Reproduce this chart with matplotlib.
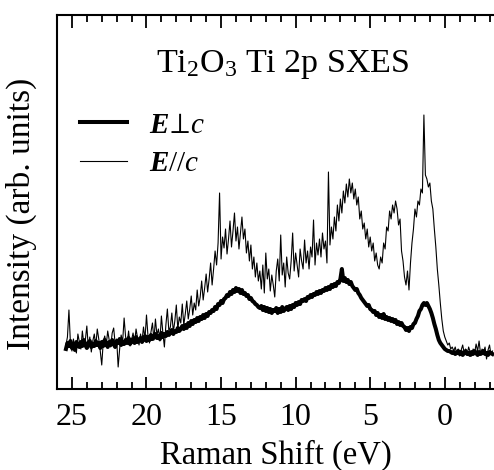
import numpy as np
import matplotlib
matplotlib.use("Agg")
import matplotlib.pyplot as plt
from matplotlib.ticker import MultipleLocator

plt.rcParams['font.family'] = ['Liberation Serif', 'DejaVu Serif']
plt.rcParams['mathtext.fontset'] = 'custom'
plt.rcParams['mathtext.rm'] = 'Liberation Serif'
plt.rcParams['mathtext.it'] = 'Liberation Serif:italic'
plt.rcParams['mathtext.bf'] = 'Liberation Serif:bold'
plt.rcParams['mathtext.bfit'] = 'Liberation Serif:bold:italic'
plt.rcParams['xtick.direction'] = 'in'
plt.rcParams['xtick.top'] = True
plt.rcParams['xtick.major.size'] = 9
plt.rcParams['xtick.minor.size'] = 5
plt.rcParams['xtick.major.width'] = 1.3
plt.rcParams['xtick.minor.width'] = 1.3

# Raman shift grid (eV), 0.1 eV steps from 25.4 down to -3.2
energia = np.round(np.arange(25.4, -3.25, -0.1), 1)

# E perpendicular c (thick line), arb. units
inten_perp = [
    40, 46, 43, 48, 41, 45, 39, 47, 44, 42,
    47, 43, 49, 44, 41, 46, 48, 42, 45, 43,
    48, 44, 46, 41, 47, 43, 49, 45, 42, 47,
    44, 49, 45, 42, 48, 46, 50, 44, 47, 45,
    49, 46, 51, 45, 48, 50, 46, 52, 47, 49,
    51, 47, 50, 53, 48, 52, 49, 54, 50, 52,
    55, 51, 53, 50, 56, 52, 55, 53, 57, 54,
    56, 59, 55, 58, 57, 61, 58, 60, 63, 60,
    64, 61, 66, 63, 68, 65, 69, 67, 71, 68,
    72, 70, 74, 71, 75, 73, 77, 76, 79, 78,
    82, 80, 85, 84, 88, 86, 90, 91, 94, 93,
    97, 95, 99, 97, 101, 98, 100, 96, 99, 95,
    96, 93, 94, 90, 91, 88, 87, 85, 84, 82,
    81, 83, 79, 82, 78, 81, 77, 80, 76, 79,
    78, 81, 76, 80, 77, 82, 78, 80, 82, 79,
    83, 80, 84, 82, 86, 84, 87, 85, 89, 88,
    90, 88, 92, 91, 94, 92, 95, 94, 97, 95,
    98, 96, 99, 98, 101, 99, 102, 100, 104, 102,
    105, 103, 107, 106, 110, 120, 108, 111, 107, 109,
    105, 107, 103, 101, 99, 100, 96, 94, 91, 89,
    87, 85, 83, 84, 80, 79, 77, 78, 74, 76,
    72, 74, 71, 75, 70, 72, 69, 71, 68, 70,
    67, 69, 65, 67, 64, 66, 63, 62, 59, 61,
    58, 62, 61, 65, 66, 70, 73, 78, 80, 84,
    86, 84, 86, 83, 80, 76, 71, 65, 60, 54,
    49, 46, 44, 42, 40, 39, 38, 38, 37, 36,
    37, 35, 36, 38, 35, 37, 34, 36, 38, 35,
    36, 34, 37, 35, 38, 36, 34, 37, 35, 36,
    38, 35, 36, 34, 37, 36, 35,
]

# E parallel c (thin line), arb. units
inten_par = [
    44, 52, 79, 46, 38, 50, 42, 36, 55, 47,
    40, 58, 45, 49, 63, 41, 52, 37, 48, 55,
    43, 60, 50, 38, 24, 47, 53, 44, 58, 49,
    42, 56, 61, 45, 50, 22, 40, 54, 47, 71,
    52, 45, 58, 43, 49, 56, 46, 60, 51, 44,
    55, 48, 62, 50, 74, 53, 46, 57, 66, 49,
    70, 54, 60, 48, 73, 56, 42, 64, 80, 58,
    62, 76, 57, 68, 84, 60, 72, 66, 85, 64,
    75, 88, 70, 80, 93, 74, 86, 79, 99, 83,
    92, 108, 89, 101, 115, 97, 110, 126, 104, 120,
    138, 124, 146, 196, 130, 152, 141, 160, 135, 150,
    168, 142, 158, 176, 148, 162, 140, 156, 172, 150,
    160, 136, 148, 128, 144, 120, 132, 112, 126, 108,
    118, 100, 124, 96, 136, 110, 120, 98, 114, 104,
    92, 118, 130, 108, 154, 114, 126, 102, 132, 116,
    110, 128, 156, 118, 136, 124, 112, 140, 128, 120,
    149, 126, 138, 120, 142, 132, 169, 124, 146, 134,
    150, 132, 156, 140, 148, 126, 217, 144, 162, 150,
    172, 158, 184, 168, 190, 176, 198, 186, 205, 192,
    210, 196, 206, 190, 200, 184, 192, 170, 178, 160,
    166, 150, 160, 142, 152, 138, 146, 128, 136, 124,
    120, 132, 126, 146, 140, 162, 158, 178, 170, 184,
    176, 188, 180, 164, 170, 138, 128, 112, 104, 118,
    99, 126, 146, 160, 180, 172, 188, 184, 200, 196,
    274, 214, 210, 202, 206, 188, 180, 160, 142, 120,
    104, 86, 70, 58, 52, 48, 44, 46, 40, 42,
    38, 42, 35, 40, 33, 39, 44, 36, 40, 34,
    42, 37, 33, 40, 36, 45, 38, 48, 35, 40,
    37, 42, 30, 39, 44, 34, 38,
]

etiquetas_x = [25, 20, 15, 10, 5, 0]

fig = plt.figure(figsize=(4.94, 4.70), dpi=100)
ax = fig.add_axes([57 / 494, 81 / 470, 437 / 494, 374 / 470])

ax.plot(energia, inten_perp, color='black', lw=2.9, label=r'$\mathbfit{E}\!\perp\!c$')
ax.plot(energia, inten_par, color='black', lw=0.8, label=r'$\mathbfit{E}//c$')

ax.set_xlim(26.0, -3.3)
ax.set_ylim(0, 374)
ax.set_xticks(etiquetas_x)
ax.xaxis.set_minor_locator(MultipleLocator(1))
ax.set_yticks([])
ax.tick_params(axis='x', which='major', labelsize=23, pad=10)
for s in ['left', 'bottom', 'top']:
    ax.spines[s].set_linewidth(1.5)
ax.spines['right'].set_visible(False)

ax.set_xlabel('Raman Shift (eV)', fontsize=23.5, labelpad=5.5)
ax.set_ylabel('Intensity (arb. units)', fontsize=24)
ax.yaxis.set_label_coords(-0.045, 0.468)

ax.text(0.516, 0.848, r'Ti$_2$O$_3$ Ti 2p SXES', transform=ax.transAxes,
        ha='center', va='baseline', fontsize=24.5)

ax.legend(loc='upper left', bbox_to_anchor=(23 / 437, 0.74), frameon=False,
          fontsize=21, handlelength=1.6, handletextpad=0.75, labelspacing=0.4,
          borderaxespad=0, borderpad=0)

fig.savefig('out.png', dpi=100)
